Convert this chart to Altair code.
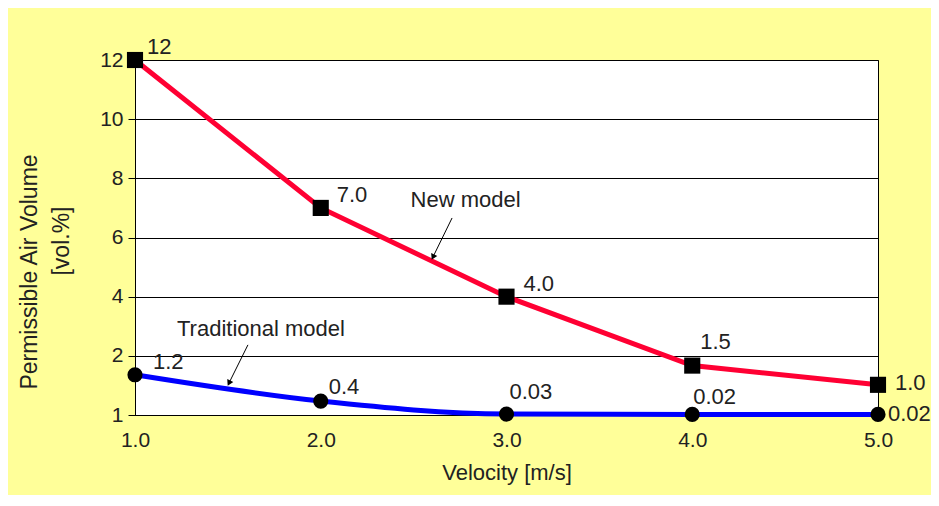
import altair as alt
import pandas as pd

velocity = [1.0, 2.0, 3.0, 4.0, 5.0]
new_model = [12.0, 7.0, 4.0, 1.67, 1.02]
new_labels = ["12", "7.0", "4.0", "1.5", "1.0"]
traditional = [1.36, 0.47, 0.03, 0.02, 0.02]
trad_labels = ["1.2", "0.4", "0.03", "0.02", "0.02"]

y_ticks = [0, 2, 4, 6, 8, 10, 12]
x_ticks = [1.0, 2.0, 3.0, 4.0, 5.0]

# label placement (pixels, style only)
new_dx = [12, 16, 17, 8, 17]
new_dy = [-13, -13, -13, -24, -2]
trad_dx = [18, 8, 3, 1, 10]
trad_dy = [-13, -14, -22, -17, 0]

FONT = "Liberation Sans"
TXT = "#222222"
FS = 22

new_df = pd.DataFrame({"i": range(5), "v": velocity, "y": new_model, "label": new_labels})
trad_df = pd.DataFrame({"i": range(5), "v": velocity, "y": traditional, "label": trad_labels})

xs = alt.Scale(domain=[1, 5], nice=False, zero=False)
ys = alt.Scale(domain=[0, 12], nice=False)

x_enc = alt.X("v:Q", scale=xs, axis=alt.Axis(values=x_ticks, format=".1f", title="Velocity [m/s]",
                                              grid=False, tickSize=0, labelPadding=14, titlePadding=12,
                                              labelFlush=False,
                                              domainColor="black", labelFontSize=21, titleFontSize=FS,
                                              labelColor=TXT, titleColor=TXT, labelFont=FONT, titleFont=FONT,
                                              titleFontWeight="normal"))
y_enc = alt.Y("y:Q", scale=ys, axis=alt.Axis(values=y_ticks, title=None, grid=True, gridColor="black",
                                              gridOpacity=1, gridWidth=1, tickSize=7, tickColor="black",
                                              domainColor="black", labelPadding=5, labelFontSize=21,
                                              labelColor=TXT, labelFont=FONT, labelFlush=False,
                                              labelExpr="datum.value == 0 ? '1' : datum.label"))

base_new = alt.Chart(new_df)
base_trad = alt.Chart(trad_df)

red_line = base_new.mark_line(color="#FF0033", strokeWidth=5).encode(x=x_enc, y=y_enc)
blue_line = base_trad.mark_line(color="#0000FF", strokeWidth=5, interpolate="monotone").encode(x="v:Q", y="y:Q")
red_pts = base_new.mark_point(shape="square", filled=True, color="black", size=260, opacity=1).encode(x="v:Q", y="y:Q")
blue_pts = base_trad.mark_point(shape="circle", filled=True, color="black", size=230, opacity=1).encode(x="v:Q", y="y:Q")

label_layers = []
for base, dxs, dys in [(base_new, new_dx, new_dy), (base_trad, trad_dx, trad_dy)]:
    for k in range(5):
        label_layers.append(
            base.transform_filter(alt.datum.i == k).mark_text(
                align="left", baseline="middle", font=FONT, fontSize=FS, color=TXT,
                dx=dxs[k], dy=dys[k]).encode(x="v:Q", y="y:Q", text="label:N"))

# annotations
ann_df = pd.DataFrame({"v": [2.78, 1.678], "y": [7.27, 2.91], "t": ["New model", "Traditional model"]})
ann_text = alt.Chart(ann_df).mark_text(font=FONT, fontSize=FS, color=TXT, baseline="middle").encode(
    x="v:Q", y="y:Q", text="t:N")
arrow_df = pd.DataFrame({"v": [2.707, 1.608], "y": [6.66, 2.37], "v2": [2.604, 1.506], "y2": [5.34, 1.08]})
arrow_lines = alt.Chart(arrow_df).mark_rule(color="black", strokeWidth=1).encode(
    x="v:Q", y="y:Q", x2="v2:Q", y2="y2:Q")
arrow_heads = alt.Chart(arrow_df).mark_point(shape="triangle-down", filled=True, color="black", size=45,
                                             angle=26, opacity=1).encode(x="v2:Q", y=alt.Y("y2:Q"))

title1 = alt.Chart(pd.DataFrame({"t": ["Permissible Air Volume"]})).mark_text(
    font=FONT, fontSize=23, color=TXT, angle=270, baseline="middle").encode(
    text="t:N", x=alt.value(-105), y=alt.value(212))
title2 = alt.Chart(pd.DataFrame({"t": ["[vol.%]"]})).mark_text(
    font=FONT, fontSize=23, color=TXT, angle=270, baseline="middle").encode(
    text="t:N", x=alt.value(-73), y=alt.value(181))

chart = alt.layer(red_line, blue_line, red_pts, blue_pts, *label_layers, ann_text,
                  arrow_lines, arrow_heads, title1, title2).properties(
    width=743, height=355,
    background="#FFFF99",
    autosize=alt.AutoSizeParams(type="none"),
    padding={"left": 127, "top": 52, "right": 53, "bottom": 80},
).configure_view(fill="white", stroke="black", strokeWidth=1)

chart.save("out.html", embed_options={"renderer": "svg", "actions": False})
